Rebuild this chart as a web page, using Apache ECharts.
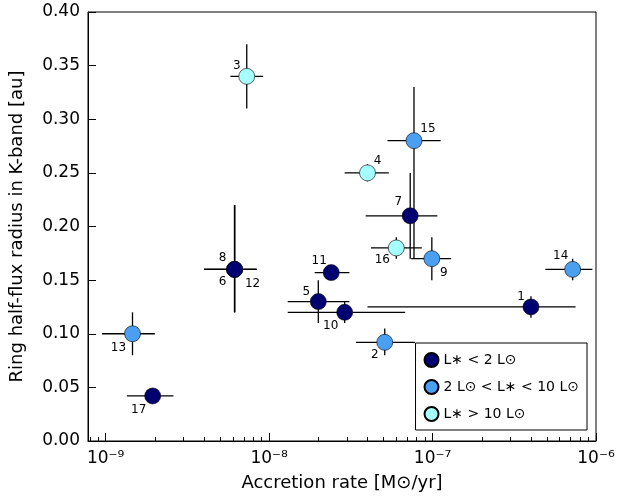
<!DOCTYPE html>
<html><head><meta charset="utf-8">
<script src="https://cdn.jsdelivr.net/npm/echarts@6/dist/echarts.min.js"></script>
<style>html,body{margin:0;background:#fff}#c{width:639px;height:497px}</style>
</head><body><div id="c"></div>
<script>
// id, accretion rate, radius, errors, luminosity class (0,1,2)
const ids   = ['1','2','3','4','5','6','7','8','9','10','11','12','13','14','15','16','17'];
const rate  = [4e-7,5.1e-8,7.3e-9,4e-8,2e-8,6.15e-9,7.3e-8,6.15e-9,9.9e-8,2.9e-8,2.4e-8,6.15e-9,1.46e-9,7.2e-7,7.7e-8,6e-8,1.94e-9];
const rLo   = [4e-8,3.4e-8,5.8e-9,2.9e-8,1.3e-8,4e-9,3.9e-8,4e-9,7.4e-8,1.3e-8,1.9e-8,4e-9,9.5e-10,4.9e-7,5.3e-8,4.2e-8,1.35e-9];
const rHi   = [7.5e-7,7.8e-8,9.2e-9,5.4e-8,3.1e-8,8.4e-9,1.07e-7,8.4e-9,1.3e-7,6.8e-8,3.1e-8,8.4e-9,2e-9,9.5e-7,1.12e-7,8.6e-8,2.6e-9];
const rad   = [0.125,0.092,0.34,0.25,0.13,0.16,0.21,0.16,0.17,0.12,0.157,0.16,0.10,0.16,0.28,0.18,0.042];
const radLo = [0.115,0.08,0.31,0.242,0.11,0.12,0.17,0.12,0.15,0.11,0.151,0.12,0.08,0.15,0.17,0.17,0.036];
const radHi = [0.135,0.105,0.37,0.258,0.15,0.22,0.25,0.22,0.19,0.13,0.163,0.22,0.12,0.17,0.33,0.19,0.048];
const cls   = [0,1,2,2,0,0,0,0,1,0,0,0,1,1,1,2,0];
const labelPos = [[-10,-10],[-10,13],[-10,-10],[10,-12],[-12,-10],[-12,12],[-12,-14],[-12,-12],[12,14],[-14,14],[-12,-12],[18,14],[-14,14],[-12,-14],[14,-12],[-14,12],[-14,14]];
const classNames = ['L\u2217 < 2 L\u2299','2 L\u2299 < L\u2217 < 10 L\u2299','L\u2217 > 10 L\u2299'];
const classColors = ['#000070','#4a9ff0','#a6ffff'];

const chart = echarts.init(document.getElementById('c'));
const errData = ids.map((_, i) => [rate[i], rad[i], rLo[i], rHi[i], radLo[i], radHi[i]]);
const series = [{
  type: 'custom', silent: true, z: 1,
  renderItem: (p, api) => {
    const c = api.coord([api.value(0), api.value(1)]);
    const xl = api.coord([api.value(2), api.value(1)]), xh = api.coord([api.value(3), api.value(1)]);
    const yl = api.coord([api.value(0), api.value(4)]), yh = api.coord([api.value(0), api.value(5)]);
    const st = {stroke: '#000', lineWidth: 1.3};
    return {type: 'group', children: [
      {type: 'line', shape: {x1: xl[0], y1: c[1], x2: xh[0], y2: c[1]}, style: st},
      {type: 'line', shape: {x1: c[0], y1: yl[1], x2: c[0], y2: yh[1]}, style: st}
    ]};
  },
  data: errData
}];
classNames.forEach((name, k) => {
  series.push({
    name, type: 'scatter', symbolSize: 16, z: 3,
    itemStyle: {color: classColors[k], opacity: 1, borderColor: '#000', borderWidth: 0.6},
    data: ids.map((id, i) => ({
      value: [rate[i], rad[i]],
      label: {show: true, formatter: id, position: 'inside', offset: labelPos[i], color: '#000', fontSize: 12}
    })).filter((d, i) => cls[i] === k)
  });
});
const sup = {'-9': '\u207b\u2079', '-8': '\u207b\u2078', '-7': '\u207b\u2077', '-6': '\u207b\u2076'};
chart.setOption({
  animation: false,
  textStyle: {fontFamily: 'DejaVu Sans'},
  grid: {left: 87, right: 43, top: 12, bottom: 56, show: true, borderColor: '#000', borderWidth: 1},
  legend: {
    orient: 'vertical', right: 52, bottom: 67, itemGap: 11,
    backgroundColor: '#fff', borderColor: '#000', borderWidth: 1, padding: [9, 8, 8, 8],
    textStyle: {fontSize: 14, color: '#000'}, itemWidth: 14, itemHeight: 14,
    data: classNames.map(n => ({name: n, icon: 'circle'}))
  },
  xAxis: {
    type: 'log', min: 7.8e-10, max: 1e-6, logBase: 10,
    name: 'Accretion rate [M\u2299/yr]', nameLocation: 'middle', nameGap: 33,
    nameTextStyle: {fontSize: 18, color: '#000'},
    axisLine: {lineStyle: {color: '#000'}},
    axisTick: {inside: true, length: 8, lineStyle: {color: '#000'}},
    minorTick: {show: true, splitNumber: 9, length: 4, lineStyle: {color: '#000'}},
    splitLine: {show: false},
    axisLabel: {fontSize: 17, color: '#000', margin: 9, formatter: v => {
      const e = Math.round(Math.log10(v)); return '10' + (sup[e] || '');
    }}
  },
  yAxis: {
    type: 'value', min: 0, max: 0.4, interval: 0.05,
    name: 'Ring half-flux radius in K-band [au]', nameLocation: 'middle', nameGap: 62,
    nameTextStyle: {fontSize: 18, color: '#000'},
    axisLine: {lineStyle: {color: '#000'}},
    axisTick: {inside: true, length: 8, lineStyle: {color: '#000'}},
    splitLine: {show: false},
    axisLabel: {fontSize: 17, color: '#000', formatter: v => v.toFixed(2)}
  },
  series
});
</script></body></html>
